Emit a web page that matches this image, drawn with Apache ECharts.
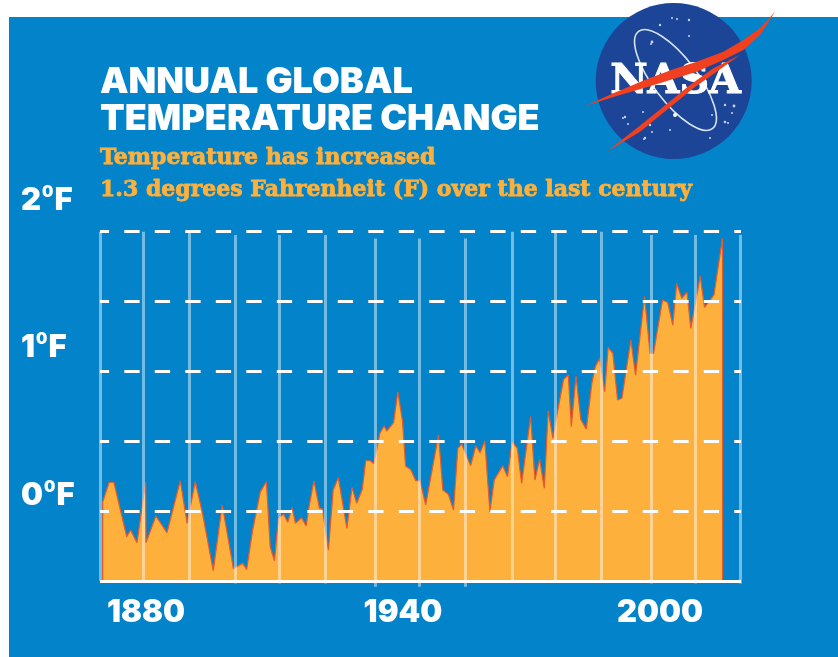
<!DOCTYPE html>
<html><head><meta charset="utf-8">
<style>html,body{margin:0;padding:0;background:#fff}#c{width:838px;height:657px}</style>
<script src="https://cdn.jsdelivr.net/npm/echarts@6/dist/echarts.min.js"></script></head>
<body><div id="c"></div>
<script>
const years=[1869.9,1869.9,1871.4,1872.5,1875.5,1876.4,1877.9,1879.9,1880.0,1882.3,1884.9,1888.0,1889.6,1891.5,1893.2,1895.7,1897.8,1900.4,1902.6,1903.5,1904.9,1906.7,1908.1,1909.0,1910.0,1910.9,1912.1,1913.1,1914.1,1914.9,1916.3,1917.4,1918.0,1919.2,1920.5,1921.2,1922.6,1923.7,1924.9,1926.9,1928.1,1929.2,1930.5,1931.3,1932.3,1933.2,1934.6,1935.6,1936.2,1937.8,1938.8,1939.9,1940.6,1941.8,1943.0,1944.0,1945.3,1948.3,1949.3,1950.6,1951.8,1952.8,1953.7,1955.8,1957.0,1958.0,1959.1,1960.3,1961.3,1963.3,1964.4,1965.5,1966.7,1967.7,1969.8,1970.8,1971.9,1973.0,1973.9,1975.0,1976.3,1977.5,1978.6,1979.3,1980.4,1981.5,1982.8,1984.1,1984.9,1985.9,1987.1,1987.9,1989.0,1990.1,1991.1,1993.2,1994.3,1996.4,1997.7,1998.5,2000.6,2001.8,2003.0,2003.9,2005.1,2006.3,2007.2,2009.4,2010.4,2011.7,2012.6,2014.6,2014.6];
const temps=[-0.5,0.071,0.21,0.21,-0.179,-0.131,-0.221,0.21,-0.221,-0.031,-0.15,0.221,-0.083,0.214,-0.012,-0.421,0.048,-0.405,-0.369,-0.412,-0.131,0.143,0.214,-0.25,-0.35,-0.048,-0.017,-0.076,0.031,-0.083,-0.043,-0.102,0.024,0.221,0.024,0.019,-0.274,0.155,0.245,-0.119,0.174,0.06,0.16,0.364,0.364,0.345,0.56,0.612,0.576,0.636,0.857,0.643,0.326,0.302,0.221,0.221,0.048,0.548,0.155,0.124,0.012,0.452,0.483,0.329,0.471,0.421,0.505,0,0.226,0.329,0.25,0.5,0.452,0.202,0.679,0.226,0.374,0.167,0.721,0.524,0.75,0.945,0.976,0.607,0.969,0.66,0.59,0.917,1.036,1.095,0.857,1.174,1.131,0.798,0.81,1.226,0.976,1.536,1.131,1.131,1.512,1.495,1.333,1.631,1.524,1.569,1.31,1.683,1.46,1.512,1.548,1.952,-0.5];
const xTickLabels=[1880,1940,2000];
const yTickLabels=['2','1','0'];
const gridValues=[2,1.5,1,0.5,0];
const baselineValue=-0.495;
const ruleYears=[1869.3,1879.4,1890.0,1900.9,1911.1,1921.8,1933.6,1943.8,1954.5,1965.4,1975.5,1986.2,1998.0,2008.2,2018.8];
const ruleTops=[2,2,2,1.976,1.976,1.976,1.952,1.952,1.952,2,2,2,1.976,1.976,1.976];
const ruleBottoms=[-0.493,-0.493,-0.493,-0.512,-0.512,-0.512,-0.536,-0.536,-0.536,-0.493,-0.493,-0.493,-0.512,-0.512,-0.512];
const titleLines=['ANNUAL GLOBAL','TEMPERATURE CHANGE'];
const subLines=['Temperature has increased','1.3 degrees Fahrenheit (F) over the last century'];

const ORANGE='#fdb03b', BLUE='#0383c9';
const titleFont='Inter', subFont='DejaVu Serif';
const X_MIN=1869.26, X_MAX=2018.92;
const chart=echarts.init(document.getElementById('c'),null,{renderer:'canvas'});
const yLabelTops=[179,326,474];
const stars=[[672,18,1],[689,20,1.2],[677,19,1],[660,25,1.2],[689,36,1],[652,42,1.4],[651,44,1],[623,118,1],[625,117,1.2],[628,124,1],[643,112,1],[650,125,1.2],[652,132,1],[645,138,1.2],[644,139,1],[725,105,1.2],[734,106,1.4],[732,113,1],[725,122,1.3],[728,123,1],[712,115,1],[710,138,1],[670,130,1]];
const z3=p=>p.map(q=>[580+q[0]/3,q[1]/3]);
const logo=[
 {type:'circle',shape:{cx:673.7,cy:81,r:78},style:{fill:'#1c4597'},z:10},
 ...stars.map(s=>({type:'circle',shape:{cx:s[0],cy:s[1],r:s[2]},style:{fill:'#c9d4ea'},z:11})),
 {type:'ellipse',shape:{cx:675.5,cy:80,rx:22,ry:61},rotation:0.65,originX:675.5,originY:80,style:{fill:'none',stroke:'#d6e2ef',lineWidth:1.6},z:11},
 {type:'circle',shape:{cx:675,cy:115,r:2},style:{fill:'#fff'},z:11},
 {type:'text',style:{text:'NASA',x:675.5,y:82,align:'center',verticalAlign:'middle',fill:'#fff',stroke:'#fff',lineWidth:1,font:'bold 41px "DejaVu Serif"'},z:12},
 {type:'polygon',shape:{points:z3([[585,35],[540,85],[490,120],[430,155],[350,185],[280,208],[200,238],[100,280],[15,318],[100,291],[200,262],[270,240],[350,215],[430,180],[490,150],[540,105]])},style:{fill:'#f0401f'},z:13},
 {type:'polygon',shape:{points:z3([[480,165],[400,205],[330,255],[250,320],[170,385],[80,455],[180,395],[260,330],[340,265],[410,215]])},style:{fill:'#f0401f'},z:13},
];
chart.setOption({
 animation:false,
 backgroundColor:'#fff',
 title:[
  {text:titleLines.join('\n'),left:95,top:59,textStyle:{color:'#fff',fontFamily:titleFont,fontWeight:900,fontSize:36,lineHeight:37}},
  {text:subLines[0],left:95,top:142,textStyle:{color:ORANGE,fontFamily:subFont,fontWeight:'bold',fontSize:22,textBorderColor:ORANGE,textBorderWidth:0.8}},
  {text:subLines[1],left:95,top:174,textStyle:{color:ORANGE,fontFamily:subFont,fontWeight:'bold',fontSize:22,textBorderColor:ORANGE,textBorderWidth:0.8}},
  ...yTickLabels.map((t,i)=>({text:'{n|'+t+'}{s|0}{n|F}',left:16,top:yLabelTops[i],textStyle:{rich:{
    n:{color:'#fff',fontFamily:titleFont,fontWeight:900,fontSize:31,lineHeight:34},
    s:{color:'#fff',fontFamily:titleFont,fontWeight:900,fontSize:16,lineHeight:34,verticalAlign:'top',padding:[0,1,12,1]}}}}))
 ],
 grid:{left:100,right:97,top:231.7,height:357},
 xAxis:{type:'value',min:X_MIN,max:X_MAX,splitLine:{show:false},axisTick:{show:false},
  axisLine:{show:false},
  axisLabel:{customValues:xTickLabels,formatter:v=>String(v),color:'#fff',fontFamily:titleFont,fontWeight:900,fontSize:31,margin:8}},
 yAxis:{type:'value',min:-0.55,max:2,show:false},
 graphic:[{type:'rect',shape:{x:9,y:17,width:829,height:640},style:{fill:BLUE},z:-10,silent:true},...logo],
 series:[
  {type:'line',name:'Temperature',data:years.map((y,i)=>[y,temps[i]]),symbol:'none',smooth:false,clip:false,z:2,
   lineStyle:{color:'#e85a2c',width:1.2},areaStyle:{color:ORANGE,opacity:1,origin:baselineValue}},
  {type:'line',name:'rules',data:[],clip:false,z:3,
   markLine:{silent:true,symbol:'none',label:{show:false},animation:false,
    lineStyle:{color:'rgba(255,255,255,0.45)',width:3,type:'solid'},
    data:ruleYears.map((y,i)=>[{coord:[y,ruleTops[i]]},{coord:[y,ruleBottoms[i]]}])}},
  {type:'line',name:'grid',data:[],clip:false,z:4,
   markLine:{silent:true,symbol:'none',label:{show:false},animation:false,
    lineStyle:{color:'#fff',width:3.2,type:[15.3,15.2],dashOffset:6.2},
    data:gridValues.map(v=>({yAxis:v}))}},
  {type:'line',name:'baseline',data:[],clip:false,z:5,
   markLine:{silent:true,symbol:'none',label:{show:false},animation:false,
    lineStyle:{color:'#fff',width:3.2,type:'solid'},
    data:[[{coord:[X_MIN,baselineValue]},{coord:[X_MAX,baselineValue]}]]}}
 ]
});
</script></body></html>
